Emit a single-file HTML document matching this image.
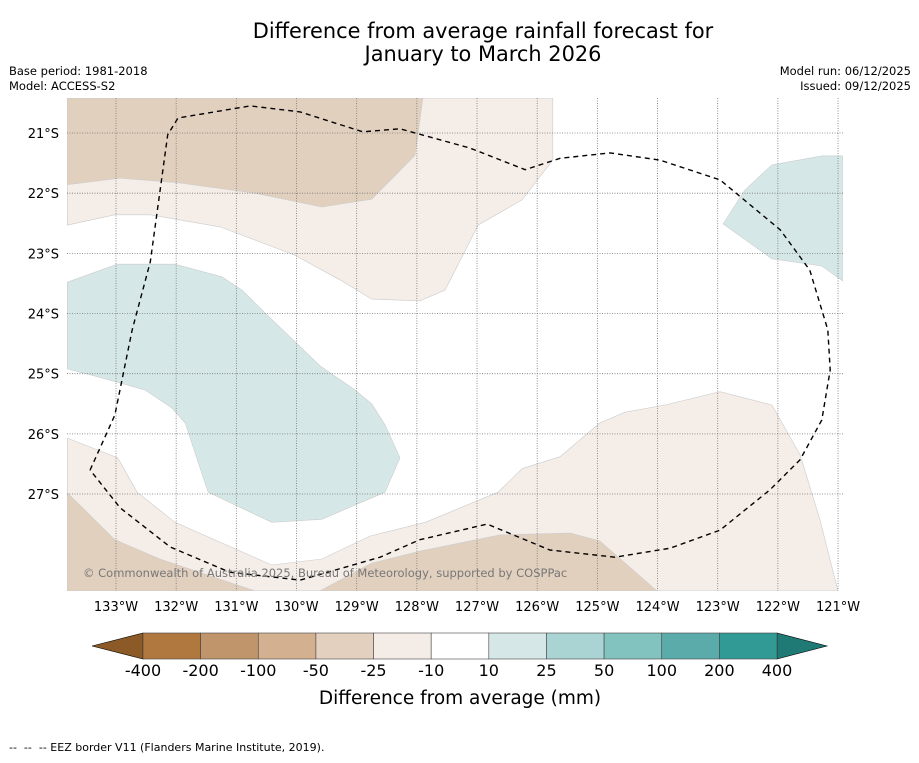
<!DOCTYPE html>
<html><head><meta charset="utf-8"><style>
body{margin:0;background:#fff;font-family:"Liberation Sans","DejaVu Sans",sans-serif;}
svg text{font-family:"DejaVu Sans","Liberation Sans",sans-serif;white-space:pre;}
</style></head><body>
<svg id="c" width="919" height="758" viewBox="0 0 919 758" xmlns="http://www.w3.org/2000/svg">
<rect width="919" height="758" fill="#fff"/>
<text x="483" y="38" font-size="20.9" text-anchor="middle">Difference from average rainfall forecast for</text>
<text x="483" y="61" font-size="20.9" text-anchor="middle">January to March 2026</text>
<text x="9" y="75" font-size="11.5">Base period: 1981-2018</text>
<text x="9" y="90" font-size="11.5">Model: ACCESS-S2</text>
<text x="911" y="75" font-size="11.5" text-anchor="end">Model run: 06/12/2025</text>
<text x="911" y="90" font-size="11.5" text-anchor="end">Issued: 09/12/2025</text>
<defs><clipPath id="mapclip"><rect x="67" y="98" width="776" height="493"/></clipPath></defs>
<g id="map" clip-path="url(#mapclip)"></g>
<g id="grid"></g>
<g id="eez"></g>
<text x="83" y="577" font-size="11.5" fill="#777">© Commonwealth of Australia 2025, Bureau of Meteorology, supported by COSPPac</text>
<g id="axes"></g>
<g id="cbar"></g>
<text x="460" y="704" font-size="18.5" text-anchor="middle">Difference from average (mm)</text>
<text x="9" y="751" font-size="11">--  --  -- EEZ border V11 (Flanders Marine Institute, 2019).</text>
</svg>
<script>
const lonTicks=[133,132,131,130,129,128,127,126,125,124,123,122,121];
const latTicks=[21,22,23,24,25,26,27];
const cbLabels=["-400","-200","-100","-50","-25","-10","10","25","50","100","200","400"];
const cbColors=["#b0773f","#c1956b","#d3b08f","#e3d0be","#f4ede7","#ffffff","#d5e8e7","#a9d4d3","#82c2bf","#5aabaa","#329a95"];
const lightTopW=[133.81,125.74,125.74,126.25,126.98,127.53,127.95,128.75,129.28,130.03,131.27,132.43,133.02,133.81];
const lightTopS=[20.42,20.42,21.45,22.11,22.53,23.61,23.79,23.76,23.44,23.03,22.56,22.36,22.36,22.53];
const darkTopW=[133.81,127.90,128.03,128.75,129.58,130.69,131.94,132.93,133.81];
const darkTopS=[20.42,20.42,21.37,22.10,22.23,22.00,21.83,21.75,21.86];
const tealLW=[133.81,132.98,132.02,131.24,130.91,130.44,129.61,129.03,128.75,128.53,128.28,128.53,129.58,130.41,131.47,131.85,132.07,132.52,133.27,133.81];
const tealLS=[23.48,23.18,23.18,23.39,23.61,24.07,24.87,25.27,25.50,25.85,26.40,26.97,27.42,27.47,26.97,25.82,25.57,25.27,25.06,24.92];
const tealRW=[122.91,122.55,122.10,121.27,120.92,120.92,121.27,122.10];
const tealRS=[22.51,21.95,21.53,21.38,21.38,23.46,23.21,23.09];
const lightBotW=[133.81,132.97,132.65,132.02,130.41,129.58,128.78,127.86,126.65,126.25,125.62,124.96,124.54,123.88,122.96,122.10,121.63,121.30,121.0,133.81];
const lightBotS=[26.07,26.40,26.97,27.47,28.18,28.08,27.70,27.47,26.97,26.58,26.38,25.82,25.64,25.52,25.30,25.52,26.35,27.43,28.61,28.61];
const darkBotW=[133.81,133.02,132.27,130.69,129.61,128.75,127.95,126.62,125.45,124.96,124.01,133.81];
const darkBotS=[26.98,27.76,28.08,28.61,28.61,28.15,27.95,27.68,27.65,27.78,28.61,28.61];
const eezW=[133.43,133.02,132.73,132.43,132.14,131.97,130.77,129.94,128.90,128.28,127.12,126.20,125.62,124.79,123.96,122.96,121.96,121.47,121.17,121.13,121.27,121.63,122.13,122.96,123.79,124.71,125.79,126.83,127.95,128.61,129.94,131.11,132.10,132.93,133.43];
const eezS=[26.60,25.69,24.27,23.14,21.03,20.75,20.55,20.65,20.98,20.93,21.25,21.61,21.42,21.33,21.45,21.78,22.61,23.28,24.27,24.94,25.77,26.43,26.93,27.60,27.90,28.05,27.93,27.50,27.76,28.05,28.43,28.30,27.88,27.23,26.60];
const NS="http://www.w3.org/2000/svg";
const X=w=>116+(133-w)*60.17, Y=s=>133+(s-21)*60.17;
function mk(p,tag,attrs){const e=document.createElementNS(NS,tag);for(const k in attrs)e.setAttribute(k,attrs[k]);p.appendChild(e);return e;}
function pts(W,S){return W.map((w,i)=>X(w).toFixed(1)+","+Y(S[i]).toFixed(1)).join(" ");}
const map=document.getElementById('map');
[[lightTopW,lightTopS,"#f4ede8","rain-below-light-north"],[darkTopW,darkTopS,"#e2d0bf","rain-below-north"],[lightBotW,lightBotS,"#f4ede8","rain-below-light-south"],[darkBotW,darkBotS,"#e2d0bf","rain-below-south"],[tealLW,tealLS,"#d5e8e7","rain-above-west"],[tealRW,tealRS,"#d5e8e7","rain-above-east"]].forEach(([W,S,c,n])=>{
 const p=mk(map,'polygon',{points:pts(W,S),fill:c,stroke:"#ccc","stroke-width":0.6});
 
 
});
const grid=document.getElementById('grid'),axes=document.getElementById('axes');
lonTicks.forEach(w=>{
 const l=mk(grid,'line',{x1:X(w),x2:X(w),y1:98,y2:591,stroke:"#777","stroke-width":0.8,"stroke-dasharray":"1,1.5"});
 
 
 const t=mk(axes,'text',{x:X(w),y:611,"font-size":13,"text-anchor":"middle"});t.textContent=w+"°W";
 
 
});
latTicks.forEach(s=>{
 const l=mk(grid,'line',{x1:67,x2:843,y1:Y(s),y2:Y(s),stroke:"#777","stroke-width":0.8,"stroke-dasharray":"1,1.5"});
 
 
 const t=mk(axes,'text',{x:59,y:Y(s)+5,"font-size":13,"text-anchor":"end"});t.textContent=s+"°S";
 
 
});
const eez=mk(document.getElementById('eez'),'polyline',{points:pts(eezW,eezS),fill:"none",stroke:"#000","stroke-width":1.4,"stroke-dasharray":"5,4","stroke-linejoin":"round"});


const cb=document.getElementById('cbar');
const bx0=143,bx1=777,bw=(bx1-bx0)/cbColors.length,by=633,bh=26;
const lt=mk(cb,'polygon',{points:`${bx0},${by} ${bx0},${by+bh} 92,${by+bh/2}`,fill:"#8c5a26",stroke:"#000","stroke-width":0.6});


const rt=mk(cb,'polygon',{points:`${bx1},${by} ${bx1},${by+bh} 827,${by+bh/2}`,fill:"#1f7a76",stroke:"#000","stroke-width":0.6});


cbColors.forEach((c,i)=>{
 const r=mk(cb,'rect',{x:bx0+i*bw,y:by,width:bw,height:bh,fill:c,stroke:"#444","stroke-width":0.6});
 
 
});
cbLabels.forEach((l,i)=>{
 const t=mk(cb,'text',{x:bx0+i*bw,y:676,"font-size":16,"text-anchor":"middle"});t.textContent=l;
 
 
});
</script>
</body></html>
